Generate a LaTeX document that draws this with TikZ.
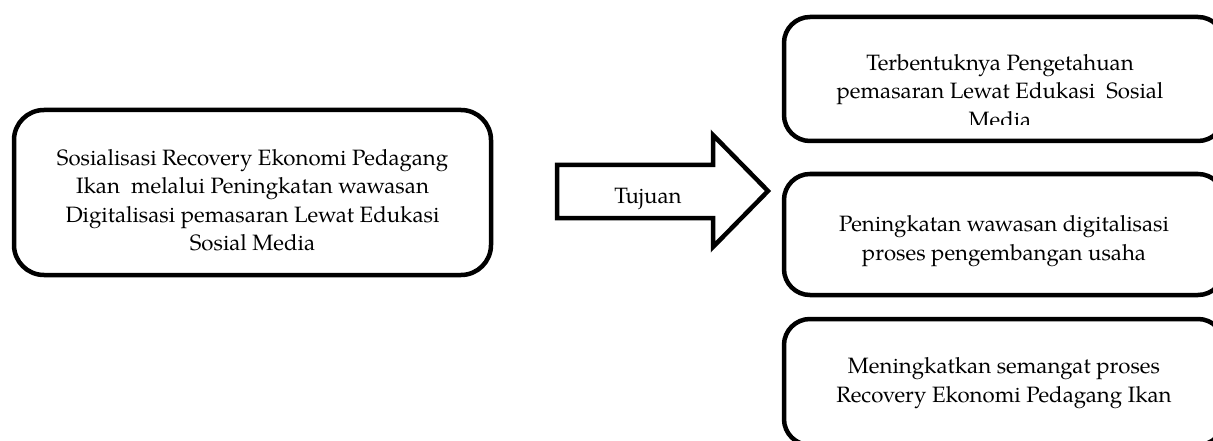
\documentclass[tikz,border=0pt]{standalone}
\usepackage{fontspec}
\setmainfont{TeX Gyre Pagella}
\tikzset{
  box/.style={draw, line width=4.5pt, rounded corners=26pt, inner sep=0pt},
  lbl/.style={font=\fontsize{22.2}{28.5}\selectfont, align=center, inner sep=0pt},
  blockarrow/.style={draw, line width=4.5pt, line join=miter, fill=white},
}
\begin{document}
\begin{tikzpicture}[x=1pt,y=-1pt]
\useasboundingbox (0,0) rectangle (1213,441);
\clip (0,0) rectangle (1213,441);
\fill[white] (0,0) rectangle (1213,441);
% source box
\node[box, rounded corners=30pt, minimum width=477pt, minimum height=165pt] (src) at (252.5,192.5) {};
\node[lbl] (srct) at (252.5,200) {Sosialisasi Recovery Ekonomi Pedagang\\Ikan\ \ melalui Peningkatan wawasan\\Digitalisasi pemasaran Lewat Edukasi\\Sosial Media};
% block arrow
\draw[blockarrow] (557,165) -- (713,165) -- (713,135) -- (768,191) -- (713,247) -- (713,218) -- (557,218) -- cycle;
\node[lbl, anchor=base] (tuj) at (648,203) {Tujuan};
% goal boxes
\node[box, minimum width=440pt, minimum height=124pt] (g1) at (1004,79) {};
\node[box, minimum width=440pt, minimum height=121pt] (g2) at (1004,234.5) {};
\node[box, minimum width=440pt, minimum height=126pt] (g3) at (1004,382) {};
\begin{scope}
\clip (784,17) rectangle (1224,124.5);
\node[lbl] (g1t) at (1000,91) {Terbentuknya Pengetahuan\\pemasaran Lewat Edukasi\ \ Sosial\\Media};
\end{scope}
\node[lbl] (g2t) at (1004,241) {Peningkatan wawasan digitalisasi\\proses pengembangan usaha};
\node[lbl] (g3t) at (1004,383) {Meningkatkan semangat proses\\Recovery Ekonomi Pedagang Ikan};
\end{tikzpicture}
\end{document}
